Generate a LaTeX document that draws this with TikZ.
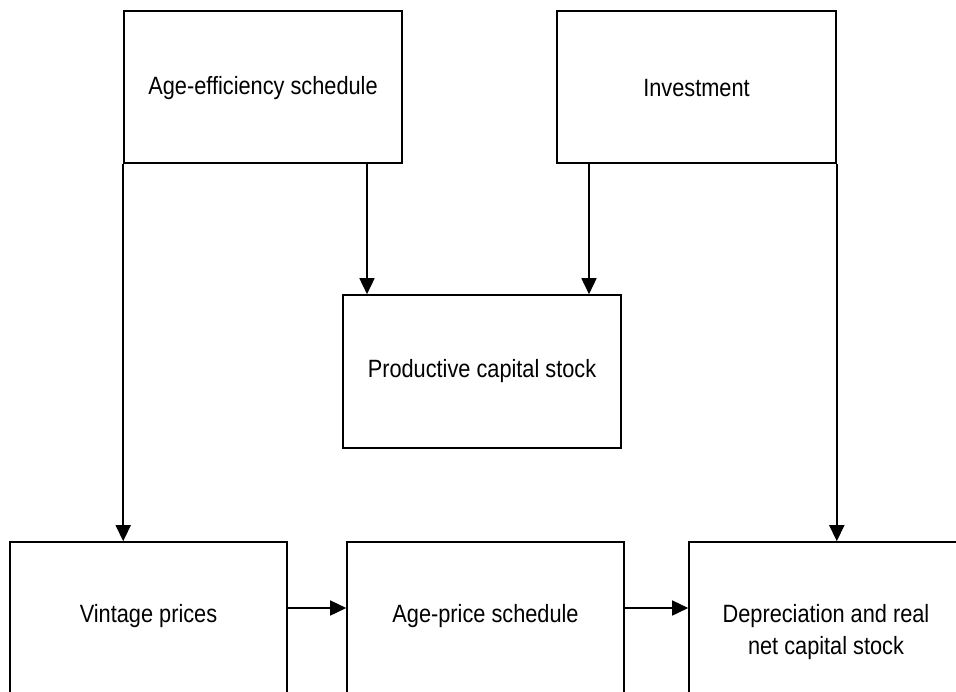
\documentclass[tikz,border=0pt]{standalone}
\usepackage{fontspec}
\setmainfont[FakeStretch=0.87]{Liberation Sans}
\usetikzlibrary{arrows.meta}
\begin{document}
\begin{tikzpicture}[x=1pt,y=-1pt,
  box/.style={draw=black, line width=1.6pt, fill=none, inner sep=0pt},
  lbl/.style={font=\fontsize{25}{32}\selectfont, align=center, inner sep=0pt},
  arr/.style={line width=1.6pt, -{Triangle[length=16pt,width=15pt]}}]
\useasboundingbox (0,0) rectangle (956,691);
\clip (0,0) rectangle (956,691);
% top boxes
\node[box, minimum width=278pt, minimum height=152pt] (ae) at (263,87) {};
\node[lbl] (aet) at (263,88) {Age-efficiency schedule};
\node[box, minimum width=279pt, minimum height=152pt] (inv) at (696.5,87) {};
\node[lbl] (invt) at (696.5,88) {Investment};
% middle box
\node[box, minimum width=278pt, minimum height=153pt] (pc) at (482,371.5) {};
\node[lbl] (pct) at (482,371) {Productive capital stock};
% bottom boxes (cut by the picture edge)
\node[box, minimum width=277pt, minimum height=170pt] (vp) at (148.5,627) {};
\node[lbl] (vpt) at (148.5,616) {Vintage prices};
\node[box, minimum width=277pt, minimum height=170pt] (aps) at (485.5,627) {};
\node[lbl] (apst) at (485.5,616) {Age-price schedule};
\node[box, minimum width=274pt, minimum height=170pt] (dep) at (826,627) {};
\node[lbl] (dept) at (826,632) {Depreciation and real\\net capital stock};
% helper coordinates
\coordinate (c1) at (367,0);
\coordinate (c2) at (589,0);
\coordinate (ya) at (0,608);
% connectors
\draw[arr] (ae.south west) -- (vp.north -| ae.west);
\draw[arr] (inv.south east) -- (dep.north -| inv.east);
\draw[arr] (ae.south -| c1) -- (pc.north -| c1);
\draw[arr] (inv.south -| c2) -- (pc.north -| c2);
\draw[arr] (vp.east |- ya) -- (aps.west |- ya);
\draw[arr] (aps.east |- ya) -- (dep.west |- ya);
\end{tikzpicture}
\end{document}
